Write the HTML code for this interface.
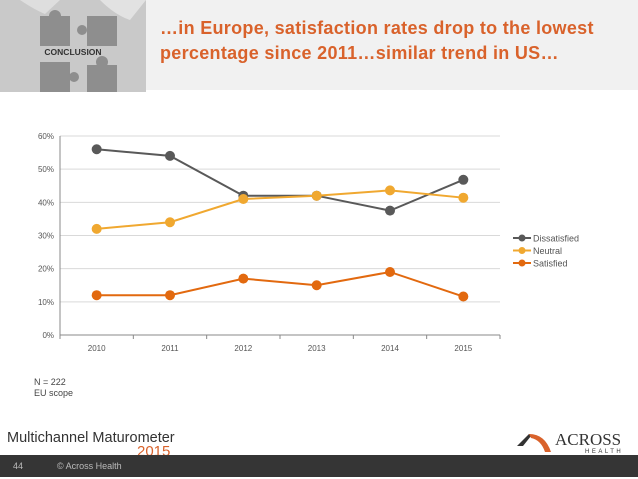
<!DOCTYPE html>
<html><head><meta charset="utf-8"><style>
body{margin:0;width:638px;height:479px;overflow:hidden;background:#fff;font-family:"Liberation Sans",sans-serif;position:relative}
.abs{position:absolute}
</style></head><body>
<div class="abs" style="left:0;top:0;width:638px;height:90px;background:#f1f1f1"></div>
<svg class="abs" style="left:0;top:0" width="146" height="92">
<rect width="146" height="92" fill="#c9c9c9"/>
<rect x="40" y="16" width="30" height="30" fill="#8e8e8e"/><circle cx="55" cy="16" r="6" fill="#8e8e8e"/>
<rect x="87" y="16" width="30" height="30" fill="#8e8e8e"/><circle cx="82" cy="30" r="5" fill="#8e8e8e"/>
<rect x="40" y="62" width="30" height="30" fill="#8e8e8e"/><circle cx="74" cy="77" r="5" fill="#8e8e8e"/>
<rect x="87" y="65" width="30" height="27" fill="#8e8e8e"/><circle cx="102" cy="62" r="6" fill="#8e8e8e"/>
<path d="M100 0 Q115 15 130 20 L146 0Z" fill="#e2e2e2"/>
<path d="M20 0 Q35 10 45 14 L60 0Z" fill="#dedede"/>
<text x="73" y="55" font-family="Liberation Sans,sans-serif" font-size="8.5" font-weight="bold" fill="#333" text-anchor="middle">CONCLUSION</text>
</svg>
<div class="abs" style="left:160px;top:16px;color:#d9622b;font-size:18px;letter-spacing:0.3px;font-weight:bold;line-height:25px;width:475px">…in Europe, satisfaction rates drop to the lowest percentage since 2011…similar trend in US…</div>

<svg class="abs" id="chart" style="left:0;top:0" width="638" height="370"></svg>

<div class="abs" style="left:34px;top:377px;font-size:9px;line-height:11px;color:#444">N = 222<br>EU scope</div>

<div class="abs" style="left:7px;top:430px;font-size:14.5px;color:#333;white-space:nowrap">Multichannel Maturometer</div>
<div class="abs" style="left:137px;top:443px;font-size:15px;color:#d9622b">2015</div>

<svg class="abs" style="left:515px;top:430px" width="120" height="24">
<path d="M2 16 L14 4 L24 8 L16 6 L8 16Z" fill="#333"/>
<path d="M14 4 Q30 4 36 22 L30 22 Q26 10 16 8Z" fill="#d9622b"/>
<text x="40" y="15" font-family="Liberation Serif,serif" font-size="17" fill="#333">ACROSS</text>
<text x="70" y="23" font-family="Liberation Sans,sans-serif" font-size="6" letter-spacing="2.5" fill="#333">HEALTH</text>
</svg>
<div class="abs" style="left:0;top:455px;width:638px;height:22px;background:#353535"></div>
<div class="abs" style="left:13px;top:461px;font-size:9px;color:#bbb">44</div>
<div class="abs" style="left:57px;top:461px;font-size:9px;color:#bbb">© Across Health</div>

<script>
const categories=["2010","2011","2012","2013","2014","2015"];
const dissatisfied=[56,54,42,42,37.5,46.8];
const neutral=[32,34,41,42,43.6,41.4];
const satisfied=[12,12,17,15,19,11.6];
const yTicks=[0,10,20,30,40,50,60];
const seriesNames=["Dissatisfied","Neutral","Satisfied"];
const colors=["#595959","#f0a830","#e2690f"];

const NS="http://www.w3.org/2000/svg";
const svg=document.getElementById('chart');
const L=60,R=500,T=136,B=335,yMax=60;
const x=i=>L+(R-L)/categories.length*(i+0.5);
const y=v=>B-(B-T)*v/yMax;
function mk(t,a){const e=document.createElementNS(NS,t);for(const k in a)e.setAttribute(k,a[k]);svg.appendChild(e);return e;}
yTicks.forEach(v=>{
  if(v>0){const g=mk('line',{x1:L,x2:R,y1:y(v),y2:y(v),stroke:'#d9d9d9','stroke-width':1});
  
  }
  const t=mk('text',{x:L-6,y:y(v)+3,'text-anchor':'end','font-size':8,fill:'#555','font-family':'Liberation Sans,sans-serif'});
  t.textContent=v+'%';
  
  
});
const ax=mk('line',{x1:L,x2:L,y1:T,y2:B,stroke:'#888'});


const bx=mk('line',{x1:L,x2:R,y1:B,y2:B,stroke:'#888'});


for(let i=0;i<=categories.length;i++){
  const tx=L+(R-L)/categories.length*i;
  const tk=mk('line',{x1:tx,x2:tx,y1:B,y2:B+4,stroke:'#888'});
  
  
}
categories.forEach((c,i)=>{
  const t=mk('text',{x:x(i),y:B+16,'text-anchor':'middle','font-size':8,fill:'#555','font-family':'Liberation Sans,sans-serif'});
  t.textContent=c;
  
  
});
[dissatisfied,neutral,satisfied].forEach((s,si)=>{
  const p=mk('polyline',{points:s.map((v,i)=>x(i)+','+y(v)).join(' '),fill:'none',stroke:colors[si],'stroke-width':2});
  
  
  s.forEach((v,i)=>{
    const c=mk('circle',{cx:x(i),cy:y(v),r:5,fill:colors[si]});
    
    
  });
  const ly=238+si*12.5;
  const ll=mk('line',{x1:513,x2:531,y1:ly,y2:ly,stroke:colors[si],'stroke-width':2});
  
  
  const lc=mk('circle',{cx:522,cy:ly,r:3.5,fill:colors[si]});
  
  
  const lt=mk('text',{x:533,y:ly+3.5,'font-size':9,fill:'#555','font-family':'Liberation Sans,sans-serif'});
  lt.textContent=seriesNames[si];
  
  
});
</script>
</body></html>
